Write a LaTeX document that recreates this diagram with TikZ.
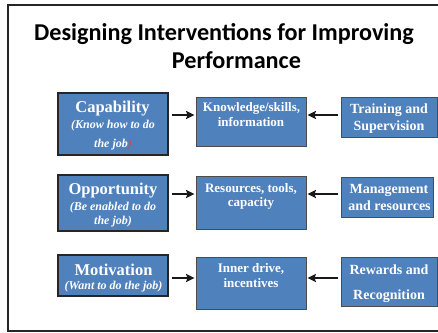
\documentclass[tikz,border=0pt]{standalone}
\usepackage{fontspec}
\setmainfont{Liberation Serif}
\newfontfamily\titlefont{Carlito}
\usetikzlibrary{arrows.meta}
\definecolor{boxblue}{HTML}{4F81BD}
\definecolor{framegray}{HTML}{262626}
\definecolor{parenred}{HTML}{C0504D}
\begin{document}
\begin{tikzpicture}[x=1pt,y=-1pt,
  box/.style={draw=black!70, line width=0.9pt, fill=boxblue, inner sep=0pt},
  leftbox/.style={box, draw=black!85, line width=1.5pt},
  tl/.style={anchor=base, inner sep=0pt, text=white},
  lbig/.style={tl, font=\fontsize{16.5}{18}\selectfont\bfseries},
  lsub/.style={tl, font=\fontsize{12}{14}\selectfont\bfseries\itshape},
  mid/.style={tl, font=\fontsize{13}{15}\selectfont\bfseries},
  rt/.style={tl, font=\fontsize{14}{16}\selectfont\bfseries},
  ttl/.style={anchor=base, inner sep=0pt, font=\titlefont\fontsize{24.2}{26}\selectfont\bfseries},
  arr/.style={-{Stealth[length=8.5pt,width=8pt,inset=1.5pt]}, line width=2.4pt, black!90, shorten <=3pt, shorten >=1pt}
]
\useasboundingbox (0,0) rectangle (438,332);
% frame
\draw[line width=1.6pt, framegray] (438,5) -- (8,5) -- (8,331) -- (438,331);
% title
\node[ttl] (t1) at (224,40) {Designing Interventions for Improving};
\node[ttl] (t2) at (236.5,68) {Performance};

% boxes
\node[leftbox, minimum width=110pt, minimum height=62pt] (cap) at (113,124) {};
\node[box, minimum width=110pt, minimum height=49pt] (know) at (251,121.5) {};
\node[box, minimum width=96pt, minimum height=40pt] (train) at (389,117) {};

\node[leftbox, minimum width=110pt, minimum height=56pt] (opp) at (113,203) {};
\node[box, minimum width=110pt, minimum height=53pt] (res) at (251,202.5) {};
\node[box, minimum width=92pt, minimum height=40pt] (mgmt) at (387,197) {};

\node[leftbox, minimum width=110pt, minimum height=41pt] (mot) at (113,275.5) {};
\node[box, minimum width=110pt, minimum height=52pt] (inner) at (251,283) {};
\node[box, minimum width=96pt, minimum height=49pt] (rew) at (389,281.5) {};

% texts
\node[lbig] (capA) at (112.5,112.3) {Capability};
\node[lsub] (capB) at (113,128.3) {(Know how to do};
\node[lsub] (capC) at (113,147.7) {the job\textcolor{parenred}{)}};
\node[mid] (knowA) at (251.5,111) {Knowledge/skills,};
\node[mid] (knowB) at (251,126.7) {information};
\node[rt] (trainA) at (389,113.3) {Training and};
\node[rt] (trainB) at (389,130.7) {Supervision};

\node[lbig] (oppA) at (113,194.3) {Opportunity};
\node[lsub] (oppB) at (113,210) {(Be enabled to do};
\node[lsub] (oppC) at (113,224) {the job)};
\node[mid] (resA) at (251,192.3) {Resources, tools,};
\node[mid] (resB) at (251,206.7) {capacity};
\node[rt] (mgmtA) at (389,193.3) {Management};
\node[rt] (mgmtB) at (389.5,210) {and resources};

\node[lbig] (motA) at (113.5,275) {Motivation};
\node[lsub] (motB) at (113.5,289.3) {(Want to do the job)};
\node[mid] (innerA) at (251,272.3) {Inner drive,};
\node[mid] (innerB) at (251,287.3) {incentives};
\node[rt] (rewA) at (389,274.3) {Rewards and};
\node[rt] (rewB) at (389,299.3) {Recognition};

% arrows
\coordinate (r1) at (0,115);
\coordinate (r2) at (0,194);
\coordinate (r3) at (0,278);
\draw[arr] (cap.east |- r1) -- (know.west |- r1);
\draw[arr] (train.west |- r1) -- (know.east |- r1);
\draw[arr] (opp.east |- r2) -- (res.west |- r2);
\draw[arr] (mgmt.west |- r2) -- (res.east |- r2);
\draw[arr] (mot.east |- r3) -- (inner.west |- r3);
\draw[arr] (rew.west |- r3) -- (inner.east |- r3);
\end{tikzpicture}
\end{document}
